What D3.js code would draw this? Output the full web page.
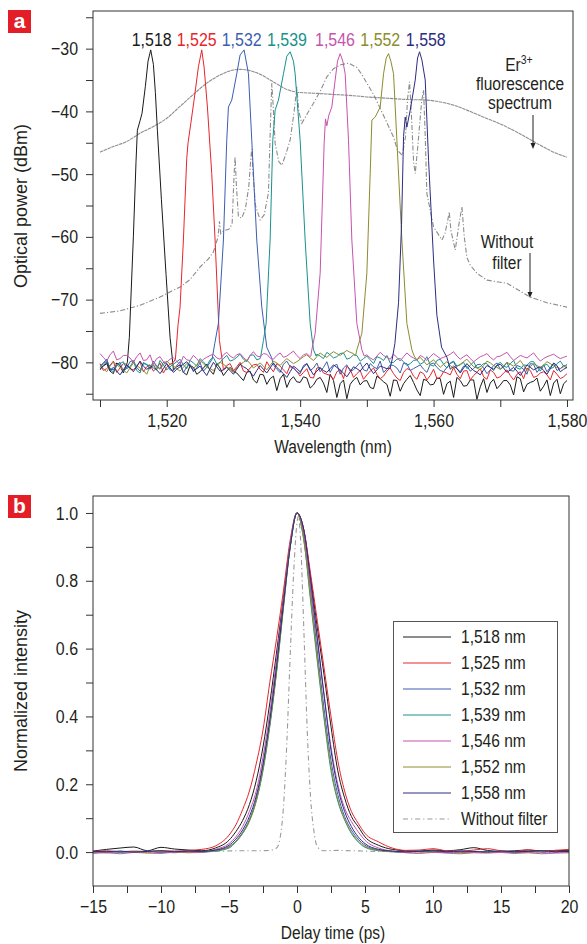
<!DOCTYPE html>
<html><head><meta charset="utf-8">
<script src="https://cdn.jsdelivr.net/npm/d3@7/dist/d3.min.js"></script>
<style>
body{margin:0;background:#fff}
svg text{font-family:"Liberation Sans",Arial,sans-serif;fill:#231f20}
</style></head><body>
<svg id="c" width="587" height="944"></svg>
<script>
// ---------------- DATA : panel a (spectra) ----------------
const seriesNames  = ["1,518","1,525","1,532","1,539","1,546","1,552","1,558"];
const seriesColors = ["#1a1a1a","#e8252b","#3c5db0","#17928c","#c653ad","#8c8c2e","#2c2c82"];

// noise floor samples at whole nm, 1,510 ... 1,580 (null = inside the filter passband)
const noise1518 = [-81.0,-80.2,-81.8,-80.5,null,null,null,null,null,null,
  null,-81.2,-80.4,-82.0,-80.8,-81.5,-80.3,-81.9,-80.9,-81.4,
  -81.4,-82.3,-81.6,-82.8,-81.9,-83.5,-82.2,-82.6,-84.0,-82.3,
  -83.2,-82.5,-83.6,-82.4,-84.8,-82.9,-83.4,-85.8,-82.8,-83.6,
  -82.9,-84.2,-82.6,-83.5,-82.8,-84.6,-82.7,-83.2,-85.3,-82.9,
  -83.5,-82.6,-83.4,-85.6,-82.9,-83.7,-82.8,-83.9,-84.8,-82.7,
  -83.6,-82.9,-85.2,-82.6,-83.5,-83.0,-84.6,-82.8,-83.3,-85.0,
  -82.9];
const noise1525 = [-80.2,-81.0,-79.8,-80.9,-80.3,-81.2,-79.9,-80.7,-81.4,-80.1,
  -80.8,-80.0,null,null,null,null,null,null,null,-80.5,
  -81.3,-80.0,-81.6,-80.4,-81.1,-79.9,-81.5,-80.6,-81.8,-80.9,
  -82.2,-81.0,-82.5,-80.8,-81.9,-82.7,-81.2,-80.6,-82.4,-81.3,
  -82.0,-80.9,-82.6,-81.4,-81.8,-82.9,-81.0,-82.2,-81.5,-82.8,
  -81.1,-82.4,-81.7,-80.8,-82.6,-81.3,-82.1,-81.0,-82.7,-81.6,
  -82.3,-81.2,-82.8,-81.5,-80.9,-82.4,-81.7,-82.0,-81.3,-82.6,
  -81.8];
const noise1532 = [-80.6,-79.5,-81.2,-80.0,-80.9,-79.7,-81.4,-80.3,-79.8,-81.0,
  -80.2,-81.3,-79.9,-80.7,-81.5,-80.1,-80.8,null,null,null,
  null,null,null,null,null,null,-80.4,-81.6,-79.8,-80.9,
  -81.8,-80.2,-80.9,-81.5,-79.9,-80.6,-81.9,-80.4,-81.2,-80.0,
  -81.4,-80.7,-79.8,-81.1,-80.5,-81.7,-80.2,-81.0,-80.4,-81.6,
  -80.1,-81.3,-80.8,-79.9,-81.5,-80.6,-81.0,-80.3,-81.8,-80.5,
  -81.1,-80.0,-81.4,-80.7,-81.9,-80.3,-80.9,-81.5,-80.2,-81.0,
  -80.6];
const noise1539 = [-80.8,-79.6,-81.5,-80.2,-81.0,-79.8,-81.7,-80.4,-80.9,-79.7,
  -81.2,-80.3,-79.5,-81.0,-80.1,-79.4,-80.6,-79.2,-80.0,-78.9,
  -79.6,-78.7,-79.9,-78.8,-79.4,null,null,null,null,null,
  null,null,null,-79.0,-78.4,-79.3,-78.6,-79.5,-78.8,-79.8,
  -79.0,-80.2,-79.3,-78.9,-80.0,-79.4,-80.5,-79.7,-80.3,-79.1,
  -80.6,-79.5,-80.9,-79.8,-80.4,-81.0,-79.9,-80.7,-80.2,-81.3,
  -80.0,-80.8,-79.7,-81.1,-80.5,-79.9,-81.4,-80.3,-80.8,-79.8,
  -80.9];
const noise1546 = [-78.6,-79.8,-78.2,-79.4,-78.9,-80.0,-78.5,-79.6,-80.3,-79.1,
  -80.0,-79.3,-80.4,-79.6,-78.9,-80.1,-79.2,-78.7,-79.5,-78.4,
  -79.3,-78.6,-79.8,-78.3,-79.1,-78.7,-79.5,-78.5,-79.0,-78.2,
  -79.4,-78.6,null,null,null,null,null,null,null,null,
  -78.8,-79.6,-78.4,-79.2,-78.7,-79.8,-78.5,-79.3,-78.9,-79.7,
  -78.6,-79.4,-79.0,-78.3,-79.5,-78.8,-79.9,-79.1,-78.6,-79.6,
  -79.0,-78.4,-79.7,-78.9,-79.3,-78.5,-79.8,-79.1,-78.7,-79.4,
  -79.0];
const noise1552 = [-80.4,-81.5,-79.9,-80.8,-81.7,-80.1,-80.9,-81.9,-80.3,-81.1,
  -79.8,-80.6,-81.4,-80.2,-81.0,-79.7,-80.8,-81.3,-80.0,-80.7,
  -81.6,-80.3,-79.6,-80.9,-80.1,-81.2,-79.8,-80.5,-79.4,-80.2,
  -79.5,-78.8,-79.7,-78.5,-79.2,-78.3,-78.9,-78.1,-78.6,null,
  null,null,null,null,null,null,null,null,-79.2,-80.4,
  -79.6,-80.8,-79.9,-81.0,-80.3,-79.5,-80.7,-81.2,-79.8,-80.5,
  -81.1,-80.0,-80.6,-79.7,-81.3,-80.2,-80.9,-79.9,-80.6,-81.0,
  -80.3];
const noise1558 = [-81.2,-79.9,-80.8,-82.0,-80.4,-81.5,-79.8,-81.1,-80.5,-81.8,
  -80.2,-81.6,-80.7,-79.9,-81.3,-80.6,-82.1,-80.0,-81.4,-80.8,
  -81.9,-80.3,-81.0,-82.2,-80.5,-81.7,-80.1,-81.3,-82.4,-80.6,
  -81.5,-80.2,-82.0,-80.9,-81.6,-80.4,-81.2,-82.3,-80.7,-81.4,
  -80.1,-81.8,-80.6,-81.0,null,null,null,null,null,null,
  null,null,null,-80.6,-81.7,-80.2,-81.3,-82.0,-80.5,-81.1,
  -80.3,-81.6,-80.8,-82.1,-80.4,-81.2,-80.7,-81.9,-80.1,-81.5,
  -80.8];
// noise floor samples at half nm, 1,510.5 ... 1,579.5
const noiseHalf1518 = [-80.6,-81.4,-80.1,-81.7,null,null,null,null,null,null,
  null,-80.7,-81.6,-80.5,-81.9,-80.9,-81.3,-80.2,-82.1,-80.8,
  -81.7,-82.9,-81.4,-83.3,-82.0,-82.6,-84.5,-81.9,-82.8,-83.1,
  -82.3,-84.1,-82.7,-83.3,-81.9,-85.6,-82.8,-83.5,-82.4,-83.0,
  -84.0,-82.2,-83.1,-85.4,-82.9,-83.4,-82.1,-84.4,-82.7,-83.6,
  -82.5,-85.1,-83.0,-82.4,-83.8,-82.8,-85.9,-82.6,-83.3,-84.2,
  -82.9,-83.6,-82.3,-84.7,-83.2,-82.5,-83.8,-85.3,-82.7,-83.4];
const noiseHalf1525 = [-81.3,-80.5,-81.6,-80.2,-81.0,-80.6,-81.5,-80.4,-80.9,-81.7,
  -80.3,null,null,null,null,null,null,null,-81.2,-80.2,
  -80.7,-81.4,-80.9,-80.3,-81.6,-80.8,-80.2,-81.2,-80.5,-81.4,
  -81.6,-82.4,-80.9,-81.7,-82.1,-81.5,-82.6,-81.1,-81.8,-82.7,
  -81.4,-81.9,-82.2,-80.9,-82.5,-81.6,-81.2,-82.7,-81.8,-82.1,
  -82.6,-81.5,-82.0,-81.9,-81.4,-82.8,-81.6,-82.3,-81.2,-82.5,
  -81.7,-82.1,-81.9,-82.6,-81.3,-82.2,-81.5,-82.8,-81.9,-82.3];
const noiseHalf1532 = [-80.1,-81.0,-80.4,-81.5,-79.9,-80.8,-80.2,-81.1,-80.6,-80.0,
  -81.2,-80.5,-81.7,-80.3,-80.9,-81.4,-80.0,null,null,null,
  null,null,null,null,null,null,-81.1,-80.3,-80.7,-81.5,
  -80.5,-81.3,-80.1,-80.8,-81.6,-80.3,-80.9,-81.4,-80.6,-81.2,
  -80.2,-81.0,-81.6,-80.4,-80.9,-80.1,-81.3,-80.7,-81.1,-80.3,
  -80.8,-81.5,-80.2,-81.0,-80.6,-81.4,-80.4,-80.9,-81.2,-80.1,
  -80.7,-81.3,-80.5,-81.1,-80.2,-81.6,-80.4,-80.8,-81.3,-80.5];
const noiseHalf1539 = [-80.2,-81.1,-80.6,-79.9,-80.7,-81.3,-80.0,-80.5,-81.2,-80.4,
  -80.7,-79.9,-80.4,-79.7,-80.6,-79.9,-79.6,-80.3,-79.4,-79.8,
  -79.2,-79.5,-78.9,-79.6,null,null,null,null,null,null,
  null,null,-78.7,-79.4,-78.8,-79.1,-78.5,-79.3,-78.9,-79.4,
  -79.6,-79.1,-79.7,-80.1,-79.5,-79.9,-80.2,-79.6,-80.0,-80.4,
  -79.7,-80.3,-80.1,-80.6,-80.0,-80.5,-80.9,-80.2,-80.8,-80.4,
  -80.6,-80.2,-80.9,-80.4,-79.9,-80.7,-80.5,-81.0,-80.2,-80.6];
const noiseHalf1546 = [-79.2,-78.8,-79.6,-78.9,-79.3,-79.1,-79.7,-78.8,-79.4,-79.9,
  -79.5,-79.8,-79.0,-79.7,-79.4,-79.5,-78.9,-79.3,-78.8,-79.0,
  -78.8,-79.2,-78.9,-79.0,-78.6,-79.3,-78.9,-79.2,-78.6,-78.9,
  -78.8,-79.1,null,null,null,null,null,null,null,null,
  -79.3,-79.0,-78.9,-79.5,-79.2,-79.1,-79.0,-79.6,-79.2,-79.1,
  -79.0,-79.2,-78.7,-79.0,-79.1,-79.4,-79.5,-78.9,-79.2,-79.1,
  -78.7,-79.1,-79.3,-79.1,-78.9,-79.2,-79.4,-78.9,-79.1,-79.2];
const noiseHalf1552 = [-81.0,-80.6,-80.4,-81.2,-80.9,-80.5,-81.3,-80.6,-80.7,-80.4,
  -80.3,-81.0,-80.8,-80.6,-80.4,-80.2,-81.0,-80.6,-80.3,-81.1,
  -80.9,-80.0,-80.2,-80.5,-80.6,-80.5,-80.1,-79.9,-79.8,-79.9,
  -79.1,-79.3,-79.1,-78.9,-78.7,-78.6,-78.5,-78.4,null,null,
  null,null,null,null,null,null,null,-79.6,-79.8,-80.0,
  -80.2,-80.3,-80.5,-80.6,-79.9,-80.1,-80.9,-80.5,-80.1,-80.8,
  -80.6,-80.3,-80.2,-80.5,-80.7,-80.5,-80.4,-80.2,-80.8,-80.7];
const noiseHalf1558 = [-80.5,-81.3,-81.4,-81.2,-80.9,-80.7,-80.6,-80.8,-81.2,-81.0,
  -80.9,-81.1,-80.3,-80.6,-81.0,-81.4,-81.0,-80.7,-81.2,-81.3,
  -81.1,-80.7,-81.6,-81.3,-81.1,-80.9,-80.8,-81.8,-81.5,-81.0,
  -80.8,-81.1,-81.4,-81.3,-81.0,-80.8,-81.7,-81.5,-81.0,-80.7,
  -81.0,-81.2,-80.8,-80.9,null,null,null,null,null,null,
  null,null,-81.1,-81.0,-80.9,-80.8,-81.6,-81.2,-80.8,-80.5,
  -80.9,-81.2,-81.4,-81.3,-80.8,-80.9,-81.3,-81.0,-80.5,-81.1];

// filter passband shapes [wavelength nm, dBm]
const peak1518 = [[1514.1,-80],[1514.4,-76],[1515.0,-60],[1515.4,-48],[1515.6,-43],[1516.0,-41.5],[1516.3,-40.3],[1516.8,-36],[1517.2,-32],[1517.6,-30.2],[1518.0,-32.5],[1518.3,-37],[1518.6,-43],[1519.2,-54],[1519.9,-66],[1520.5,-76],[1520.9,-80]];
const peak1525 = [[1521.3,-79.5],[1521.7,-74],[1522.0,-71.2],[1522.5,-60.5],[1523.0,-47.5],[1523.2,-45],[1523.6,-42],[1524.1,-38.2],[1524.75,-32.9],[1525.25,-30.2],[1525.6,-32.9],[1526.1,-39.3],[1526.75,-49.9],[1527.25,-60.5],[1527.9,-76.5],[1528.3,-79.5]];
const peak1532 = [[1526.8,-79.5],[1527.2,-77],[1527.75,-73.8],[1528.5,-60.5],[1529.0,-44.6],[1529.25,-39.3],[1529.75,-38.2],[1530.5,-34],[1531.0,-31],[1531.6,-30.2],[1532.25,-34],[1532.75,-44.6],[1533.5,-60.5],[1534.25,-71.2],[1535.0,-77.6],[1535.7,-79.2]];
const peak1539 = [[1534.1,-79],[1534.5,-76.5],[1534.9,-73.8],[1535.5,-60.5],[1535.9,-44.6],[1536.25,-39.8],[1536.75,-38.2],[1537.5,-34],[1538.0,-31.2],[1538.5,-30.5],[1539.0,-32],[1539.25,-34],[1540.0,-44.6],[1540.75,-60.5],[1541.5,-73.8],[1542.0,-78],[1542.4,-79]];
const peak1546 = [[1541.6,-79],[1541.75,-78],[1542.25,-75.4],[1543.0,-65.8],[1543.6,-45],[1543.8,-41.2],[1544.0,-42.3],[1544.3,-40.6],[1544.75,-39.3],[1545.25,-35],[1545.6,-32],[1546.0,-30.8],[1546.4,-32],[1546.75,-34],[1547.25,-44.6],[1547.75,-60.5],[1548.5,-73.8],[1549.25,-78],[1549.6,-79]];
const peak1552 = [[1548.3,-79],[1548.5,-78],[1549.25,-75.4],[1550.0,-65.8],[1550.5,-49.9],[1550.75,-41.4],[1551.25,-40.9],[1552.0,-39.3],[1552.5,-34],[1552.9,-31.5],[1553.25,-30.8],[1553.6,-32],[1554.0,-34],[1554.5,-44.6],[1555.25,-60.5],[1556.0,-73.8],[1556.75,-78],[1557.1,-79]];
const peak1558 = [[1553.8,-79.5],[1554.2,-77],[1554.75,-70.5],[1555.2,-58],[1555.5,-44],[1555.75,-40.9],[1556.0,-42.5],[1556.5,-39.8],[1557.25,-35],[1557.6,-31.5],[1557.9,-30.5],[1558.25,-31.8],[1558.75,-35],[1559.25,-47.8],[1560.0,-63.7],[1560.5,-72.5],[1561.2,-77.6],[1562.0,-79.2]];

// Er3+ fluorescence spectrum [nm, dBm]
const erSpectrum = [[1510,-46.5],[1512,-45.6],[1514,-44.8],[1516,-43.5],[1518,-42.4],[1520,-41.1],[1522,-39.2],[1524,-37.3],[1526,-35.5],[1528,-34.2],[1530,-33.4],[1531,-33.3],[1532,-33.4],[1534,-34.1],[1536,-35.3],[1538,-36.5],[1540,-37.0],[1542,-37.1],[1545,-37.3],[1548,-37.5],[1550,-37.7],[1553,-37.9],[1556,-38.1],[1559,-38.2],[1561,-38.5],[1563,-39.0],[1565,-39.8],[1567,-40.7],[1570,-42.0],[1573,-43.6],[1576,-45.4],[1578,-46.5],[1580,-47.3]];

// spectrum without filter [nm, dBm]
const noFilterSpectrum = [[1510,-72.2],[1513,-71.8],[1516,-70.9],[1519,-69.6],[1521,-68.5],[1522,-68.0],[1523.5,-66.8],[1525,-64.8],[1526.25,-63.5],[1527,-62.4],[1527.7,-60],[1527.9,-57.5],[1528.1,-59.5],[1528.6,-59],[1529.3,-58.8],[1529.8,-58],[1530.1,-50],[1530.25,-47.2],[1530.45,-52],[1530.75,-56.8],[1531.25,-57.0],[1531.8,-55.5],[1532.3,-52],[1532.6,-47.5],[1532.75,-46],[1532.95,-50],[1533.3,-55],[1534.0,-57.3],[1534.6,-56.5],[1535.25,-53],[1535.55,-42],[1535.75,-35.5],[1535.95,-39],[1536.25,-45.1],[1536.8,-48],[1537.25,-48.6],[1537.8,-47],[1538.5,-44.6],[1539.1,-40],[1539.5,-36.1],[1539.8,-40],[1540.25,-41.9],[1541,-40.5],[1542,-38.7],[1543,-36.8],[1544,-34.5],[1545,-33.2],[1546,-32.6],[1547.25,-32.3],[1548.5,-33.0],[1549.3,-34.2],[1550,-35.5],[1551,-37.3],[1552,-39.5],[1553,-41.8],[1554,-44.1],[1554.6,-46.2],[1555.3,-47],[1555.8,-44],[1556.1,-38],[1556.4,-35.3],[1556.7,-41],[1557.0,-48],[1557.25,-49.9],[1557.6,-46],[1558.2,-38.5],[1558.5,-36.6],[1558.75,-44],[1559.0,-53.1],[1560,-58.4],[1561.25,-60.5],[1561.7,-59.5],[1562.1,-57.5],[1562.35,-56],[1562.6,-59],[1563.25,-62.1],[1563.8,-58],[1564.25,-55.2],[1564.6,-60],[1565.0,-63.3],[1565.5,-64.5],[1566.5,-65.8],[1568,-66.9],[1571,-67.4],[1574.5,-69.6],[1577,-70.5],[1580,-71.2]];

const specXTicks  = [1510,1520,1530,1540,1550,1560,1570,1580];
const specXLabels = ["","1,520","","1,540","","1,560","","1,580"];
const specYTicks  = [-85,-80,-75,-70,-65,-60,-55,-50,-45,-40,-35,-30,-25];
const specYLabels = ["","−80","","−70","","−60","","−50","","−40","","−30",""];

// ---------------- DATA : panel b (autocorrelation) ----------------
const delayT = [-15,-14,-13,-12,-11,-10,-9,-8,-7,-6,-5,
  -4.5,-4,-3.5,-3,-2.5,-2,-1.5,-1,-0.5,0,0.5,1,1.5,2,2.5,3,3.5,4,4.5,
  5,6,7,8,9,10,11,12,13,14,15,16,17,18,19,20];
const ac1518 = [0.003,0.008,0.012,0.015,0.004,0.014,0.009,0.006,0.004,0.012,0.035,
  0.06,0.093,0.14,0.21,0.31,0.44,0.59,0.75,0.91,1.0,0.95,0.81,0.66,0.52,0.37,0.24,0.16,0.105,0.075,
  0.045,0.02,0.008,0.004,0.003,0.006,0.004,0.007,0.013,0.005,0.002,0.004,0.006,0.003,0.005,0.004];
const ac1525 = [0.002,0.004,0.001,0.003,0.002,0.004,0.003,0.005,0.008,0.018,0.05,
  0.08,0.125,0.18,0.26,0.36,0.50,0.63,0.77,0.92,1.0,0.95,0.82,0.68,0.54,0.40,0.27,0.18,0.12,0.085,
  0.055,0.03,0.012,0.005,0.006,0.01,0.004,0.003,0.006,0.01,0.004,0.002,0.007,0.003,0.005,0.008];
const ac1532 = [0.001,-0.002,0.002,0.0,0.003,-0.001,0.002,0.001,0.002,0.005,0.016,
  0.032,0.058,0.095,0.155,0.25,0.38,0.54,0.73,0.9,1.0,0.93,0.77,0.59,0.42,0.27,0.17,0.105,0.065,0.038,
  0.02,0.006,0.002,0.0,0.003,0.001,-0.001,0.002,0.0,0.003,0.001,-0.002,0.002,0.0,0.001,0.002];
const ac1539 = [0.0,0.002,-0.001,0.001,0.002,0.0,-0.002,0.001,0.0,0.003,0.012,
  0.03,0.055,0.093,0.15,0.24,0.37,0.53,0.72,0.90,1.0,0.92,0.74,0.56,0.39,0.24,0.15,0.095,0.055,0.03,
  0.014,0.004,0.001,-0.001,0.002,0.0,0.001,-0.002,0.001,0.002,0.0,-0.001,0.001,0.002,0.0,0.001];
const ac1546 = [-0.004,-0.002,-0.005,-0.001,-0.003,-0.004,0.0,-0.002,-0.001,0.008,0.025,
  0.045,0.075,0.12,0.18,0.28,0.41,0.57,0.74,0.91,1.0,0.94,0.78,0.62,0.46,0.31,0.2,0.13,0.09,0.06,
  0.035,0.012,0.003,-0.002,-0.004,-0.001,-0.003,-0.005,-0.002,-0.003,-0.001,-0.004,-0.002,-0.005,-0.003,-0.002];
const ac1552 = [0.001,0.0,0.002,0.001,-0.001,0.002,0.001,0.0,0.001,0.004,0.014,
  0.03,0.055,0.09,0.15,0.245,0.375,0.535,0.72,0.9,1.0,0.92,0.75,0.57,0.4,0.25,0.155,0.097,0.058,0.033,
  0.016,0.005,0.001,0.002,0.0,0.001,0.002,-0.001,0.001,0.0,0.002,0.001,0.0,0.001,0.002,0.0];
const ac1558 = [0.002,0.001,0.003,0.0,0.002,0.004,0.001,0.003,0.002,0.006,0.02,
  0.038,0.065,0.105,0.165,0.26,0.39,0.55,0.73,0.9,1.0,0.95,0.8,0.63,0.46,0.3,0.19,0.12,0.075,0.045,
  0.025,0.008,0.003,0.001,0.002,0.004,0.001,0.003,0.002,0.0,0.003,0.001,0.002,0.004,0.001,0.002];
const noFilterT  = [-15,-10,-6,-4,-3,-2,-1.5,-1.25,-1,-0.75,-0.5,-0.25,0,0.1,0.25,0.5,0.75,1,1.25,1.5,2,3,4,6,10,15,20];
const noFilterAC = [0.0,0.0,0.002,0.004,0.004,0.005,0.012,0.04,0.13,0.32,0.58,0.82,0.97,0.99,0.93,0.66,0.36,0.16,0.06,0.015,0.004,0.005,0.004,0.002,0.0,0.0,0.0];

const acXTicks  = [-15,-12.5,-10,-7.5,-5,-2.5,0,2.5,5,7.5,10,12.5,15,17.5,20];
const acXLabels = ["−15","","−10","","−5","","0","","5","","10","","15","","20"];
const acYTicks  = [0,0.1,0.2,0.3,0.4,0.5,0.6,0.7,0.8,0.9,1.0];
const acYLabels = ["0.0","","0.2","","0.4","","0.6","","0.8","","1.0"];
const legendLabels = ["1,518 nm","1,525 nm","1,532 nm","1,539 nm","1,546 nm","1,552 nm","1,558 nm","Without filter"];

// ---------------- DRAWING ----------------
const svg = d3.select("#c");
const noiseWl = d3.range(1510, 1581);
const noiseHalfWl = d3.range(1510.5, 1580, 1);
const noiseSets = [noise1518,noise1525,noise1532,noise1539,noise1546,noise1552,noise1558];
const noiseHalfSets = [noiseHalf1518,noiseHalf1525,noiseHalf1532,noiseHalf1539,noiseHalf1546,noiseHalf1552,noiseHalf1558];
const peakSets  = [peak1518,peak1525,peak1532,peak1539,peak1546,peak1552,peak1558];
const acSets    = [ac1518,ac1525,ac1532,ac1539,ac1546,ac1552,ac1558];
const axisCol = "#333";
const SX = 0.84;     // horizontal condensing of the narrow sans face

function condense(sel, s){
  sel.each(function(){
    const t = d3.select(this);
    const x = +t.attr("x") || 0;
    const tr = t.attr("transform") || "";
    t.attr("transform", `${tr} translate(${x},0) scale(${s},1) translate(${-x},0)`);
  });
}

function panelLabel(y, ch){
  svg.append("rect").attr("x",8).attr("y",y).attr("width",23).attr("height",23).attr("fill","#e41e26");
  svg.append("text").attr("x",19.5).attr("y",y+18).attr("text-anchor","middle")
    .style("font-weight","bold").style("font-size","21px").style("fill","#fff").text(ch);
}

function frameAxes(x, y, L, T, R, B, xt, xl, yt, yl){
  svg.append("rect").attr("x",L).attr("y",T).attr("width",R-L).attr("height",B-T)
    .attr("fill","none").attr("stroke",axisCol).attr("stroke-width",1);
  const ax = svg.append("g").attr("transform",`translate(0,${B})`)
    .call(d3.axisBottom(x).tickValues(xt).tickSize(7).tickPadding(7).tickFormat((d,i)=>xl[i]));
  const ay = svg.append("g").attr("transform",`translate(${L},0)`)
    .call(d3.axisLeft(y).tickValues(yt).tickSize(7).tickPadding(8).tickFormat((d,i)=>yl[i]));
  [ax,ay].forEach(g=>{
    g.select(".domain").remove();
    g.selectAll("line").attr("stroke",axisCol);
    const tx = g.selectAll("text").style("font-size","19px").style("fill","#231f20")
      .style("font-family","'Liberation Sans',Arial,sans-serif");
    condense(tx, SX);
  });
}

// ---- panel a ----
const xA = d3.scaleLinear().domain([1508.95,1580.9]).range([93,573]);
const yA = d3.scaleLinear().domain([-86,-24]).range([400,11]);
svg.append("clipPath").attr("id","clipA").append("rect").attr("x",93).attr("y",11).attr("width",480).attr("height",389);
const gA = svg.append("g").attr("clip-path","url(#clipA)");
const lineLin = d3.line().x(d=>xA(d[0])).y(d=>yA(d[1]));
const lineSmooth = d3.line().x(d=>xA(d[0])).y(d=>yA(d[1])).curve(d3.curveMonotoneX);

gA.append("path").attr("d",lineSmooth(erSpectrum))
  .attr("fill","none").attr("stroke","#8e8e8e").attr("stroke-width",1.1).attr("stroke-dasharray","3.5,0.6");
gA.append("path").attr("d",lineLin(noFilterSpectrum))
  .attr("fill","none").attr("stroke","#8c8c8c").attr("stroke-width",1.1).attr("stroke-dasharray","5,2,1.2,2");

noiseSets.forEach((noise,k)=>{
  const pts = [];
  noise.forEach((v,i)=>{ if(v!==null) pts.push([noiseWl[i], v]); });
  noiseHalfSets[k].forEach((v,i)=>{ if(v!==null) pts.push([noiseHalfWl[i], v]); });
  peakSets[k].forEach(p=>pts.push(p));
  pts.sort((a,b)=>a[0]-b[0]);
  gA.append("path").attr("d",lineLin(pts))
    .attr("fill","none").attr("stroke",seriesColors[k]).attr("stroke-width",1);
});
frameAxes(xA,yA,93,11,573,400,specXTicks,specXLabels,specYTicks,specYLabels);

// peak labels
const peakLabelX = [151.7,196.7,241.7,287,335,380.3,425.8];
seriesNames.forEach((s,k)=>{
  const t = svg.append("text").attr("x",peakLabelX[k]).attr("y",46).attr("text-anchor","middle")
    .style("font-size","19px").style("fill",seriesColors[k]).text(s);
  condense(t, SX);
});
// annotations
const ann = svg.append("g").style("font-size","18.5px");
const er = ann.append("text").attr("x",519).attr("y",71).attr("text-anchor","middle");
er.append("tspan").text("Er");
er.append("tspan").attr("dy",-7).style("font-size","12.5px").text("3+");
ann.append("text").attr("x",520).attr("y",90).attr("text-anchor","middle").text("fluorescence");
ann.append("text").attr("x",520).attr("y",109).attr("text-anchor","middle").text("spectrum");
ann.append("text").attr("x",507).attr("y",248).attr("text-anchor","middle").text("Without");
ann.append("text").attr("x",507).attr("y",269).attr("text-anchor","middle").text("filter");
condense(ann.selectAll("text"), SX);
function arrow(x,y1,y2){
  svg.append("line").attr("x1",x).attr("x2",x).attr("y1",y1).attr("y2",y2-5).attr("stroke","#231f20").attr("stroke-width",1);
  svg.append("path").attr("d",`M${x-2.5},${y2-6}L${x+2.5},${y2-6}L${x},${y2}Z`).attr("fill","#231f20");
}
arrow(533,115,149);
arrow(530,253,298);
condense(svg.append("text").attr("x",333).attr("y",453).attr("text-anchor","middle").style("font-size","18.5px").text("Wavelength (nm)"), SX);
svg.append("text").attr("transform","translate(27,206) rotate(-90)").attr("text-anchor","middle").style("font-size","18px").text("Optical power (dBm)");
panelLabel(10,"a");

// ---- panel b ----
const xB = d3.scaleLinear().domain([-15,20]).range([93,569]);
const yB = d3.scaleLinear().domain([-0.1,1.05]).range([886,496]);
svg.append("clipPath").attr("id","clipB").append("rect").attr("x",93).attr("y",496).attr("width",476).attr("height",390);
const gB = svg.append("g").attr("clip-path","url(#clipB)");
const lineB = d3.line().x(d=>xB(d[0])).y(d=>yB(d[1])).curve(d3.curveMonotoneX);
gB.append("path").attr("d",lineB(noFilterT.map((t,i)=>[t,noFilterAC[i]])))
  .attr("fill","none").attr("stroke","#9a9a9a").attr("stroke-width",1.1).attr("stroke-dasharray","5,3,1.2,3");
acSets.forEach((vals,k)=>{
  gB.append("path").attr("d",lineB(delayT.map((t,i)=>[t,vals[i]])))
    .attr("fill","none").attr("stroke",seriesColors[k]).attr("stroke-width",1);
});
frameAxes(xB,yB,93,496,569,886,acXTicks,acXLabels,acYTicks,acYLabels);
condense(svg.append("text").attr("x",333).attr("y",939).attr("text-anchor","middle").style("font-size","18.5px").text("Delay time (ps)"), SX);
svg.append("text").attr("transform","translate(27,691) rotate(-90)").attr("text-anchor","middle").style("font-size","18px").text("Normalized intensity");
panelLabel(495,"b");

// legend
const lg = svg.append("g");
lg.append("rect").attr("x",393.5).attr("y",621.5).attr("width",164).attr("height",211)
  .attr("fill","#fff").attr("stroke","#555").attr("stroke-width",1);
legendLabels.forEach((s,i)=>{
  const y = 637 + i*26;
  const l = lg.append("line").attr("x1",403).attr("x2",451).attr("y1",y).attr("y2",y).attr("stroke-width",1);
  if(i<7) l.attr("stroke",seriesColors[i]); else l.attr("stroke","#999").attr("stroke-dasharray","5,3,1.2,3");
  condense(lg.append("text").attr("x",461).attr("y",y+6.5).style("font-size","18.5px").text(s), SX);
});
</script>
</body></html>
